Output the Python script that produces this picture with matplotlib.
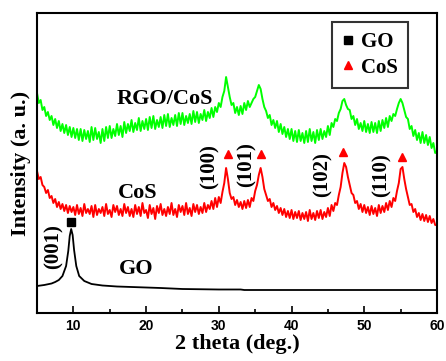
"""XRD patterns of GO, CoS and RGO/CoS."""
import numpy as np
import matplotlib
matplotlib.use("Agg")
import matplotlib.pyplot as plt
from matplotlib.lines import Line2D
from matplotlib.ticker import MultipleLocator

# 2 theta grid for the noisy patterns (5..60, step 0.25)
two_theta = np.arange(5.0, 60.001, 0.25)

# CoS pattern (offset intensity, arbitrary units), 4 points per degree
cos_int = [
    142, 134, 136, 128, 126, 120, 123, 115, 117, 110, 114, 106,
    111, 104, 109, 102, 108, 100, 107, 101, 106, 98, 108, 99,
    105, 97, 109, 100, 104, 99, 107, 96, 108, 98, 104, 100,
    106, 97, 109, 99, 103, 96, 108, 101, 107, 98, 104, 97,
    109, 100, 106, 97, 104, 96, 108, 99, 106, 97, 110, 100,
    103, 95, 108, 99, 105, 94, 107, 100, 109, 98, 104, 97,
    106, 99, 110, 98, 104, 96, 108, 101, 107, 98, 110, 99,
    105, 97, 109, 101, 108, 99, 106, 100, 110, 101, 108, 104,
    112, 104, 115, 106, 116, 110, 121, 130, 145, 134, 120, 114,
    116, 108, 113, 106, 111, 104, 112, 105, 113, 106, 115, 112,
    122, 128, 138, 145, 136, 124, 118, 112, 114, 106, 110, 103,
    107, 100, 105, 98, 104, 96, 102, 95, 103, 94, 101, 95,
    102, 93, 100, 94, 101, 92, 103, 94, 100, 93, 102, 95,
    103, 94, 101, 96, 105, 97, 108, 102, 110, 108, 118, 126,
    140, 150, 146, 136, 128, 120, 118, 110, 112, 104, 109, 101,
    108, 100, 106, 98, 107, 99, 105, 97, 108, 100, 107, 101,
    110, 103, 112, 106, 115, 112, 122, 130, 144, 146, 134, 124,
    116, 108, 109, 101, 104, 96, 100, 93, 99, 92, 98, 91,
    97, 90, 94, 88, 88,
]

# RGO/CoS pattern
rgo_cos_int = [
    220, 210, 213, 203, 206, 197, 201, 193, 197, 188, 194, 185,
    192, 182, 189, 180, 188, 178, 186, 176, 185, 175, 184, 173,
    184, 172, 183, 174, 182, 171, 186, 173, 185, 174, 181, 170,
    184, 172, 186, 175, 187, 175, 184, 177, 189, 178, 187, 176,
    191, 180, 189, 182, 193, 181, 190, 183, 195, 182, 192, 184,
    194, 183, 196, 185, 197, 184, 193, 186, 196, 185, 198, 187,
    199, 186, 195, 188, 198, 187, 200, 189, 200, 188, 197, 190,
    199, 189, 202, 191, 201, 190, 199, 193, 203, 192, 201, 195,
    205, 196, 206, 201, 210, 206, 216, 222, 236, 226, 216, 208,
    210, 200, 206, 198, 207, 199, 210, 203, 212, 206, 210, 214,
    216, 222, 228, 224, 214, 206, 202, 195, 198, 188, 193, 185,
    192, 181, 189, 179, 186, 176, 184, 174, 184, 172, 182, 171,
    183, 172, 180, 170, 182, 171, 184, 172, 181, 170, 183, 173,
    184, 174, 182, 176, 187, 178, 190, 186, 194, 192, 200, 204,
    212, 214, 208, 204, 203, 194, 197, 188, 194, 184, 190, 182,
    192, 181, 189, 180, 191, 181, 190, 180, 192, 182, 193, 185,
    195, 186, 197, 192, 199, 197, 204, 210, 214, 210, 203, 196,
    194, 184, 187, 177, 183, 173, 180, 170, 181, 170, 178, 168,
    176, 165, 170, 160, 162,
]

# GO pattern (smooth), sampled more densely around the (001) peak
go_theta = [5, 6, 7, 7.5, 8, 8.5, 9, 9.3, 9.5, 9.7, 9.9, 10.1, 10.4, 10.8,
            11.5, 12.5, 14, 16, 18, 20, 22, 25, 30, 33, 33.5, 40, 50, 60]
go_int = [27, 28, 29.5, 31, 33, 37, 47, 62, 77, 84, 78, 63, 47, 37,
          32, 29, 27.5, 26.5, 26, 25.5, 25, 24, 23.5, 23.5, 23, 23, 23, 23]

# peak markers
cos_peaks = [31.2, 35.8, 47.1, 55.2]
cos_peak_y = [159, 159, 161, 156]
cos_hkl = ["(100)", "(101)", "(102)", "(110)"]
go_peak = [9.7]
go_peak_y = [91]

SERIF = "Liberation Serif"
SANS = "Liberation Sans"

fig = plt.figure(figsize=(4.46, 3.61), dpi=100)
ax = fig.add_axes([37 / 446, 48 / 361, 400 / 446, 300 / 361])

ax.plot(go_theta, go_int, color="black", lw=1.3)
ax.plot(two_theta, cos_int, color="#ff0000", lw=1.4)
ax.plot(two_theta, rgo_cos_int, color="#00ff00", lw=1.4)

ax.plot(cos_peaks, cos_peak_y, ls="none", marker="^", ms=5.5, color="#ff0000")
ax.plot(go_peak, go_peak_y, ls="none", marker="s", ms=6, color="black")

tkw = dict(family=SERIF, fontweight="bold", fontsize=16, ha="center", va="center")
ax.text(22.6, 214, "RGO/CoS", **tkw)
ax.text(18.9, 120, "CoS", **tkw)
ax.text(18.7, 44, "GO", **tkw)

hkw = dict(family=SERIF, fontweight="bold", fontsize=15, ha="center",
           va="center", rotation=90)
for x, y, lab in zip([28.8, 33.8, 44.3, 52.4], [146, 148, 138, 138], cos_hkl):
    ax.text(x, y, lab, **hkw)
ax.text(7.25, 66, "(001)", **hkw)

ax.set_xlim(5, 60)
ax.set_ylim(0, 300)
ax.xaxis.set_major_locator(MultipleLocator(10))
ax.xaxis.set_minor_locator(MultipleLocator(5))
ax.tick_params(axis="x", which="major", direction="in", length=5, width=1.2,
               pad=4, labelsize=10)
ax.tick_params(axis="x", which="minor", direction="in", length=3, width=1.2)
ax.set_yticks([])
for lab in ax.get_xticklabels():
    lab.set_fontfamily(SANS)
    lab.set_fontweight("bold")
for sp in ax.spines.values():
    sp.set_linewidth(1.5)

ax.set_xlabel("2 theta (deg.)", family=SERIF, fontweight="bold", fontsize=16,
              labelpad=1)
ax.set_ylabel("Intensity (a. u.)", family=SERIF, fontweight="bold", fontsize=16,
              labelpad=4)

handles = [
    Line2D([], [], ls="none", marker="s", ms=6, color="black"),
    Line2D([], [], ls="none", marker="^", ms=6, color="#ff0000"),
]
leg = ax.legend(handles, ["GO", "CoS"], loc="upper right",
                bbox_to_anchor=((408 - 37) / 400, (313 - 22) / 300),
                borderaxespad=0, frameon=True, fancybox=False,
                handlelength=0.6, handletextpad=0.3, borderpad=0.5,
                labelspacing=0.25,
                prop=dict(family=SERIF, weight="bold", size=15))
leg.get_frame().set_edgecolor("black")
leg.get_frame().set_linewidth(1.5)

fig.savefig("out.png", dpi=100)
